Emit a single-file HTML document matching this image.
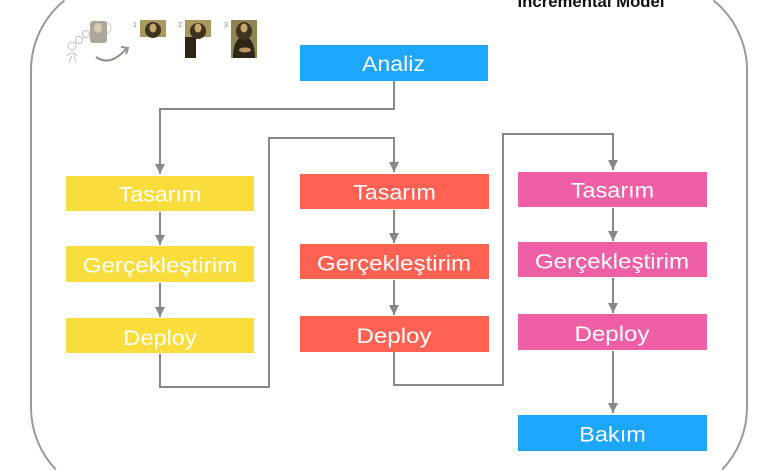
<!DOCTYPE html>
<html>
<head>
<meta charset="utf-8">
<style>
  html,body{margin:0;padding:0;background:#fff;width:780px;height:470px;overflow:hidden;}
  svg{display:block;overflow:hidden;}
  text{font-family:"Liberation Sans",Arial,sans-serif;}
</style>
</head>
<body>
<svg width="780" height="470" viewBox="0 0 780 470" xmlns="http://www.w3.org/2000/svg">
  <defs>
    <marker id="ah" viewBox="0 0 10 10" refX="10" refY="5" markerWidth="10" markerHeight="10" markerUnits="userSpaceOnUse" orient="auto">
      <path d="M0,0 L10,5 L0,10 z" fill="#888"/>
    </marker>
  </defs>

  <!-- outer rounded frame (visible portion only) -->
  <path d="M64.43,0.5 A90,90 0 0 0 31,70 L31,408 A90,90 0 0 0 55.76,469.5" fill="none" stroke="#9a9a9a" stroke-width="2"/>
  <path d="M713.57,0.5 A90,90 0 0 1 747,70 L747,408 A90,90 0 0 1 722.24,469.5" fill="none" stroke="#9a9a9a" stroke-width="2"/>

  <!-- title -->
  <text x="591" y="7" text-anchor="middle" font-size="16.7" font-weight="bold" fill="#111" textLength="147" lengthAdjust="spacingAndGlyphs">Incremental Model</text>

  <!-- top-left illustration -->
  <g opacity="0.75">
    <circle cx="72" cy="46" r="4" fill="none" stroke="#aaa" stroke-width="1"/>
    <circle cx="79" cy="40" r="3.5" fill="none" stroke="#aaa" stroke-width="1"/>
    <circle cx="86" cy="34" r="3.5" fill="none" stroke="#aaa" stroke-width="1"/>
    <path d="M67,56 q5,-6 10,0 M69,62 l3,-6 M76,62 l-2,-6" fill="none" stroke="#aaa" stroke-width="1"/>
    <circle cx="105" cy="28" r="6" fill="none" stroke="#bbb" stroke-width="1"/>
    <rect x="90" y="21" width="17" height="22" rx="3" fill="#8f8a7a"/>
    <ellipse cx="98" cy="28" rx="4" ry="5" fill="#c9b99a"/>
    <path d="M96,57 q14,10 30,-8" fill="none" stroke="#6a6a5a" stroke-width="2"/>
    <path d="M121,47 l7,1 l-2,6" fill="none" stroke="#6a6a5a" stroke-width="2"/>
  </g>
  <text x="133" y="27" font-size="7" fill="#888">1</text>
  <text x="178" y="27" font-size="7" fill="#888">2</text>
  <text x="224" y="27" font-size="7" fill="#888">3</text>
  <!-- img 1 -->
  <rect x="140" y="20" width="26" height="17" fill="#a7995f"/>
  <ellipse cx="153" cy="30" rx="8" ry="8" fill="#3e3320"/>
  <ellipse cx="153" cy="28" rx="3.5" ry="4.5" fill="#c9a86a"/>
  <!-- img 2 -->
  <rect x="185" y="20" width="26" height="17" fill="#a7995f"/>
  <rect x="185" y="37" width="11" height="21" fill="#2e2616"/>
  <ellipse cx="198" cy="31" rx="8" ry="8" fill="#3e3320"/>
  <ellipse cx="198" cy="28" rx="3.5" ry="4.5" fill="#c9a86a"/>
  <!-- img 3 -->
  <rect x="231" y="20" width="26" height="38" fill="#8f8552"/>
  <path d="M233,58 q0,-20 11,-22 q11,2 11,22 z" fill="#2e2616"/>
  <ellipse cx="244" cy="31" rx="8" ry="9" fill="#3e3320"/>
  <ellipse cx="244" cy="28" rx="3.5" ry="4.5" fill="#c9a86a"/>
  <ellipse cx="245" cy="50" rx="6" ry="2.5" fill="#b8955e"/>

  <!-- connectors -->
  <g fill="none" stroke="#888" stroke-width="2">
    <polyline points="394,81 394,109 160,109 160,174" marker-end="url(#ah)"/>
    <polyline points="160,354 160,387 269,387 269,138 394,138 394,172" marker-end="url(#ah)"/>
    <polyline points="394,352 394,385 503,385 503,134 613,134 613,170" marker-end="url(#ah)"/>

    <line x1="160" y1="212" x2="160" y2="245" marker-end="url(#ah)"/>
    <line x1="160" y1="283" x2="160" y2="317" marker-end="url(#ah)"/>

    <line x1="394" y1="210" x2="394" y2="243" marker-end="url(#ah)"/>
    <line x1="394" y1="280" x2="394" y2="315" marker-end="url(#ah)"/>

    <line x1="613" y1="208" x2="613" y2="241" marker-end="url(#ah)"/>
    <line x1="613" y1="278" x2="613" y2="313" marker-end="url(#ah)"/>
    <line x1="613" y1="351" x2="613" y2="413" marker-end="url(#ah)"/>
  </g>

  <!-- Analiz -->
  <rect x="300" y="45" width="188" height="36" fill="#1da7fc"/>
  <text x="393.5" y="71" text-anchor="middle" font-size="21" fill="#fff" textLength="63" lengthAdjust="spacingAndGlyphs">Analiz</text>

  <!-- yellow column -->
  <rect x="66" y="176" width="188" height="35" fill="#f8dd3c"/>
  <text x="160" y="201.7" text-anchor="middle" font-size="21" fill="#fff" textLength="82.7" lengthAdjust="spacingAndGlyphs">Tasarım</text>
  <rect x="66" y="246" width="188" height="36" fill="#f8dd3c"/>
  <text x="160" y="272.7" text-anchor="middle" font-size="21" fill="#fff" textLength="154.7" lengthAdjust="spacingAndGlyphs">Gerçekleştirim</text>
  <rect x="66" y="318" width="188" height="35" fill="#f8dd3c"/>
  <text x="160" y="345" text-anchor="middle" font-size="21" fill="#fff" textLength="73.3" lengthAdjust="spacingAndGlyphs">Deploy</text>

  <!-- red column -->
  <rect x="300" y="174" width="189" height="35" fill="#ff6152"/>
  <text x="394.5" y="199.7" text-anchor="middle" font-size="21" fill="#fff" textLength="82.7" lengthAdjust="spacingAndGlyphs">Tasarım</text>
  <rect x="300" y="244" width="189" height="35" fill="#ff6152"/>
  <text x="394" y="270.5" text-anchor="middle" font-size="21" fill="#fff" textLength="154.3" lengthAdjust="spacingAndGlyphs">Gerçekleştirim</text>
  <rect x="300" y="316" width="189" height="36" fill="#ff6152"/>
  <text x="394" y="343" text-anchor="middle" font-size="21" fill="#fff" textLength="75" lengthAdjust="spacingAndGlyphs">Deploy</text>

  <!-- pink column -->
  <rect x="518" y="172" width="189" height="35" fill="#ee5fa6"/>
  <text x="612.5" y="197.7" text-anchor="middle" font-size="21" fill="#fff" textLength="83.3" lengthAdjust="spacingAndGlyphs">Tasarım</text>
  <rect x="518" y="242" width="189" height="35" fill="#ee5fa6"/>
  <text x="612" y="268.5" text-anchor="middle" font-size="21" fill="#fff" textLength="154.3" lengthAdjust="spacingAndGlyphs">Gerçekleştirim</text>
  <rect x="518" y="314" width="189" height="36" fill="#ee5fa6"/>
  <text x="612" y="341" text-anchor="middle" font-size="21" fill="#fff" textLength="75" lengthAdjust="spacingAndGlyphs">Deploy</text>

  <!-- Bakım -->
  <rect x="518" y="415" width="189" height="36" fill="#1da7fc"/>
  <text x="612.5" y="441.5" text-anchor="middle" font-size="21" fill="#fff" textLength="66.7" lengthAdjust="spacingAndGlyphs">Bakım</text>
</svg>
</body>
</html>
